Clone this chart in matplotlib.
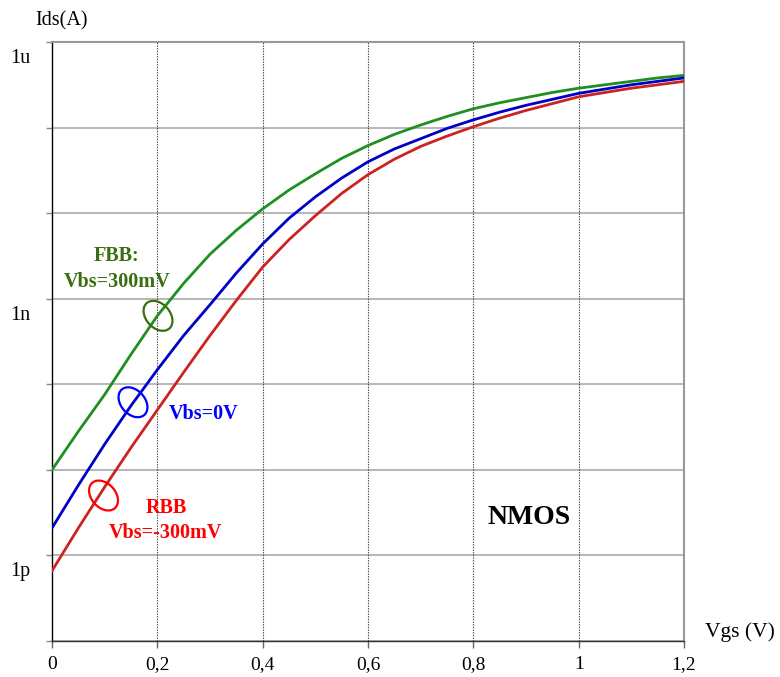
import numpy as np
import matplotlib
matplotlib.use("Agg")
import matplotlib.pyplot as plt
from matplotlib.patches import Ellipse
from matplotlib.transforms import ScaledTranslation
from matplotlib.ticker import NullLocator, FixedLocator

# ---- data ----
vgs = [0.0, 0.05, 0.1, 0.15, 0.2, 0.25, 0.3, 0.35, 0.4, 0.45, 0.5, 0.55, 0.6,
       0.65, 0.7, 0.75, 0.8, 0.85, 0.9, 0.95, 1.0, 1.05, 1.1, 1.15, 1.2]
log_ids_fbb = [-11.00, -10.55, -10.12, -9.65, -9.20, -8.82, -8.48, -8.20, -7.95, -7.73,
               -7.54, -7.36, -7.21, -7.08, -6.97, -6.87, -6.78, -6.71, -6.65, -6.59,
               -6.54, -6.50, -6.46, -6.42, -6.39]
log_ids_0v = [-11.68, -11.18, -10.70, -10.25, -9.83, -9.43, -9.07, -8.70, -8.36, -8.06,
              -7.81, -7.59, -7.40, -7.25, -7.13, -7.01, -6.91, -6.82, -6.74, -6.67,
              -6.60, -6.55, -6.50, -6.46, -6.42]
log_ids_rbb = [-12.18, -11.68, -11.20, -10.74, -10.30, -9.86, -9.43, -9.02, -8.63, -8.31,
               -8.03, -7.77, -7.55, -7.37, -7.22, -7.10, -6.99, -6.89, -6.80, -6.72,
               -6.64, -6.59, -6.54, -6.50, -6.46]

xticks = [0, 0.2, 0.4, 0.6, 0.8, 1.0, 1.2]
xtick_labels = ["0", "0,2", "0,4", "0,6", "0,8", "1", "1,2"]
ytick_vals = [1e-6, 1e-9, 1e-12]
ytick_labels = ["1u", "1n", "1p"]

ids_fbb = [10 ** v for v in log_ids_fbb]
ids_0v = [10 ** v for v in log_ids_0v]
ids_rbb = [10 ** v for v in log_ids_rbb]

plt.rcParams['font.family'] = ['Liberation Serif', 'DejaVu Serif']

W, H, DPI = 780, 677, 100
fig = plt.figure(figsize=(W / DPI, H / DPI), dpi=DPI)
ax = fig.add_axes([52 / W, 1 - 641 / H, (684 - 52) / W, (641 - 42) / H])

ax.set_yscale('log')
ax.set_xlim(0, 1.2)
ax.set_ylim(1e-13, 1e-6)

# grid lines
for d in range(-13, -5):
    ax.axhline(10.0 ** d, color='#aaaaaa', lw=1.2, zorder=1)
for xv in xticks[1:-1]:
    ax.axvline(xv, color='#444444', lw=0.8, ls=(0, (1.2, 1.2)), zorder=1)

c_green = '#1f8f1f'
c_blue = '#0000c8'
c_red = '#cc2222'
ax.plot(vgs, ids_fbb, color=c_green, lw=2.0, zorder=3)
ax.plot(vgs, ids_0v, color=c_blue, lw=2.0, zorder=3)
ax.plot(vgs, ids_rbb, color=c_red, lw=2.0, zorder=3)

# spines
ax.spines['left'].set_color('black')
ax.spines['left'].set_linewidth(1.0)
ax.spines['bottom'].set_color('#333333')
ax.spines['bottom'].set_linewidth(1.0)
for s in ['top', 'right']:
    ax.spines[s].set_color('#999999')
    ax.spines[s].set_linewidth(1.5)

# ticks
ax.yaxis.set_major_locator(FixedLocator([10.0 ** d for d in range(-13, -5)]))
ax.yaxis.set_minor_locator(NullLocator())
lab = []
for d in range(-13, -5):
    s = ''
    for tv, tl in zip(ytick_vals, ytick_labels):
        if abs(np.log10(tv) - d) < 1e-6:
            s = tl
    lab.append(s)
ax.set_yticklabels(lab)
ax.set_xticks(xticks)
ax.set_xticklabels(xtick_labels)
ax.tick_params(axis='y', direction='out', length=4.5, width=1.0, color='#888888',
               labelsize=14.5, pad=11)
ax.tick_params(axis='x', direction='out', length=5, width=1.0, color='#666666',
               labelsize=14, pad=6)
for t in ax.get_yticklabels():
    t.set_transform(t.get_transform() + ScaledTranslation(0, -14 / DPI, fig.dpi_scale_trans))

# axis labels
fig.text(62 / W, 1 - 21 / H, 'Ids(A)', ha='center', va='center', fontsize=14.5)
fig.text(740 / W, 1 - 632 / H, 'Vgs (V)', ha='center', va='center', fontsize=15.5)

# annotations
def ell(xv, logy, color, w=0.34, h=0.24, ang=-48):
    tr = fig.dpi_scale_trans + ScaledTranslation(xv, 10 ** logy, ax.transData)
    e = Ellipse((0, 0), w, h, angle=ang, fill=False, edgecolor=color, lw=1.6,
                transform=tr, zorder=4, clip_on=False)
    ax.add_patch(e)

ell(0.2013, -9.20, '#3a6e10')
ell(0.1538, -10.21, '#0000ff')
ell(0.0978, -11.30, '#ff0000')

tkw = dict(ha='center', va='center', fontweight='bold', fontsize=14.5, zorder=5)
ax.text(0.1234, 10 ** -8.50, 'FBB:', color='#3a6e10', **tkw)
ax.text(0.1244, 10 ** -8.805, 'Vbs=300mV', color='#3a6e10', **tkw)
ax.text(0.2877, 10 ** -10.35, 'Vbs=0V', color='#0000ff', **tkw)
ax.text(0.2165, 10 ** -11.45, 'RBB', color='#ff0000', **tkw)
ax.text(0.2146, 10 ** -11.74, 'Vbs=-300mV', color='#ff0000', **tkw)
ax.text(0.9066, 10 ** -11.56, 'NMOS', color='black', ha='center', va='center',
        fontweight='bold', fontsize=20, zorder=5)

fig.savefig('out.png', dpi=DPI)
